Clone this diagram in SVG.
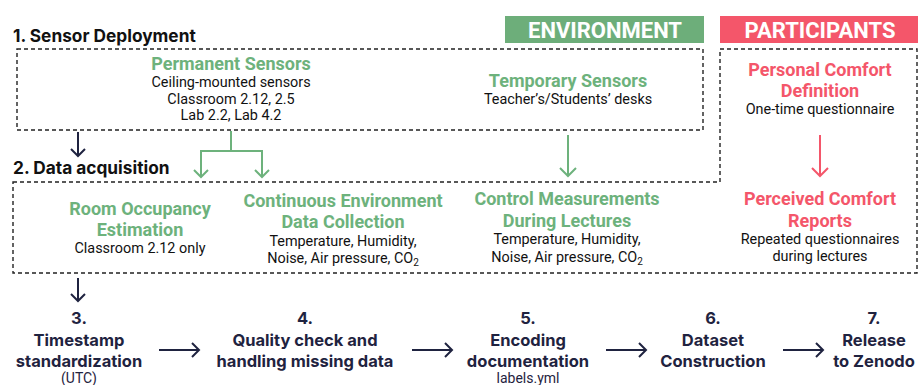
<svg xmlns="http://www.w3.org/2000/svg" width="921" height="385" viewBox="0 0 921 385">
  <defs>
    <style>
      .sec { font-family: Inter, Roboto, "Liberation Sans", sans-serif; font-weight: 700; font-size: 17.3px; fill: #111111; }
      .env-h { font-family: Roboto, "Liberation Sans", sans-serif; font-weight: 700; font-size: 18px; fill: #6DB27C; text-anchor: middle; }
      .par-h { font-family: Roboto, "Liberation Sans", sans-serif; font-weight: 700; font-size: 18px; fill: #F4566A; text-anchor: middle; }
      .body { font-family: Roboto, "Liberation Sans", sans-serif; font-size: 14.4px; fill: #111111; text-anchor: middle; }
      .tag { font-family: Roboto, "Liberation Sans", sans-serif; font-weight: 700; font-size: 22px; fill: #FFFFFF; text-anchor: middle; }
      .step { font-family: Inter, Roboto, "Liberation Sans", sans-serif; font-weight: 700; font-size: 16.5px; fill: #1F2340; text-anchor: middle; }
      .step-sub { font-family: Roboto, "Liberation Sans", sans-serif; font-size: 14px; fill: #1F2340; text-anchor: middle; }
      .dash { fill: none; stroke: #222222; stroke-width: 1.4; stroke-dasharray: 4 3; }
      .c-navy { fill: none; stroke: #1F2340; stroke-width: 2; }
      .c-green { fill: none; stroke: #6DB27C; stroke-width: 2; }
      .c-red { fill: none; stroke: #F4566A; stroke-width: 2; }
    </style>
  </defs>

  <rect width="921" height="385" fill="#FFFFFF"/>

  <!-- column tags -->
  <g id="tag-environment">
    <rect x="505" y="16" width="199" height="27" fill="#6DAE7A"/>
    <text class="tag" x="605" y="37.5">ENVIRONMENT</text>
  </g>
  <g id="tag-participants">
    <rect x="720" y="16" width="198" height="27" fill="#F4566A"/>
    <text class="tag" x="820" y="37.5">PARTICIPANTS</text>
  </g>

  <!-- section frames -->
  <g id="frames">
    <text class="sec" x="13" y="42">1. Sensor Deployment</text>
    <rect class="dash" x="17" y="49" width="686" height="81"/>
    <text class="sec" x="13" y="174">2. Data acquisition</text>
    <path class="dash" d="M13,182 H720 V49 H917 V273 H13 Z"/>
  </g>

  <!-- nodes -->
  <g id="permanent-sensors">
    <text class="env-h" x="231" y="70">Permanent Sensors</text>
    <text class="body" x="231" y="87">Ceiling-mounted sensors</text>
    <text class="body" x="231" y="104">Classroom 2.12, 2.5</text>
    <text class="body" x="231" y="120">Lab 2.2, Lab 4.2</text>
  </g>
  <g id="temporary-sensors">
    <text class="env-h" x="568" y="87">Temporary Sensors</text>
    <text class="body" x="568" y="104">Teacher’s/Students’ desks</text>
  </g>
  <g id="personal-comfort">
    <text class="par-h" x="820" y="76">Personal Comfort</text>
    <text class="par-h" x="820" y="97">Definition</text>
    <text class="body" x="820" y="114">One-time questionnaire</text>
  </g>
  <g id="room-occupancy">
    <text class="env-h" x="140" y="215">Room Occupancy</text>
    <text class="env-h" x="140" y="236">Estimation</text>
    <text class="body" x="140" y="253">Classroom 2.12 only</text>
  </g>
  <g id="continuous-environment">
    <text class="env-h" x="343" y="207">Continuous Environment</text>
    <text class="env-h" x="343" y="228">Data Collection</text>
    <text class="body" x="343" y="246">Temperature, Humidity,</text>
    <text class="body" x="343" y="263">Noise, Air pressure, CO<tspan font-size="10" dy="3">2</tspan></text>
  </g>
  <g id="control-measurements">
    <text class="env-h" x="567" y="205">Control Measurements</text>
    <text class="env-h" x="567" y="227">During Lectures</text>
    <text class="body" x="567" y="244">Temperature, Humidity,</text>
    <text class="body" x="567" y="262">Noise, Air pressure, CO<tspan font-size="10" dy="3">2</tspan></text>
  </g>
  <g id="perceived-comfort">
    <text class="par-h" x="820" y="205">Perceived Comfort</text>
    <text class="par-h" x="820" y="227">Reports</text>
    <text class="body" x="820" y="244">Repeated questionnaires</text>
    <text class="body" x="820" y="261">during lectures</text>
  </g>

  <g id="step-3">
    <text class="step" x="79" y="324">3.</text>
    <text class="step" x="79" y="346">Timestamp</text>
    <text class="step" x="79" y="367">standardization</text>
    <text class="step-sub" x="79" y="383">(UTC)</text>
  </g>
  <g id="step-4">
    <text class="step" x="305" y="324">4.</text>
    <text class="step" x="305" y="346">Quality check and</text>
    <text class="step" x="305" y="367">handling missing data</text>
  </g>
  <g id="step-5">
    <text class="step" x="528" y="324">5.</text>
    <text class="step" x="528" y="346">Encoding</text>
    <text class="step" x="528" y="367">documentation</text>
    <text class="step-sub" x="528" y="383">labels.yml</text>
  </g>
  <g id="step-6">
    <text class="step" x="713" y="324">6.</text>
    <text class="step" x="713" y="346">Dataset</text>
    <text class="step" x="713" y="367">Construction</text>
  </g>
  <g id="step-7">
    <text class="step" x="874" y="324">7.</text>
    <text class="step" x="874" y="346">Release</text>
    <text class="step" x="874" y="367">to Zenodo</text>
  </g>

  <!-- connectors -->
  <g id="connectors">
    <!-- deployment to acquisition -->
    <path class="c-navy" d="M78,132 V156 M71,149 L78,156 L85,149"/>
    <!-- permanent sensors split -->
    <path class="c-green" d="M231,131 V151 M201,177 V151 H262 V177 M194,170 L201,177 L208,170 M255,170 L262,177 L269,170"/>
    <!-- temporary sensors down -->
    <path class="c-green" d="M568,135 V176 M560,168 L568,176 L576,168"/>
    <!-- personal to perceived comfort -->
    <path class="c-red" d="M820,135 V176 M812,168 L820,176 L828,168"/>
    <!-- acquisition to step 3 -->
    <path class="c-navy" d="M78,278 V301 M71,294 L78,301 L85,294"/>
    <!-- step chain -->
    <path class="c-navy" d="M159,350 H199 M192,343 L199,350 L192,357"/>
    <path class="c-navy" d="M412,350 H452 M445,343 L452,350 L445,357"/>
    <path class="c-navy" d="M606,350 H646 M639,343 L646,350 L639,357"/>
    <path class="c-navy" d="M783,350 H823 M816,343 L823,350 L816,357"/>
  </g>
</svg>
